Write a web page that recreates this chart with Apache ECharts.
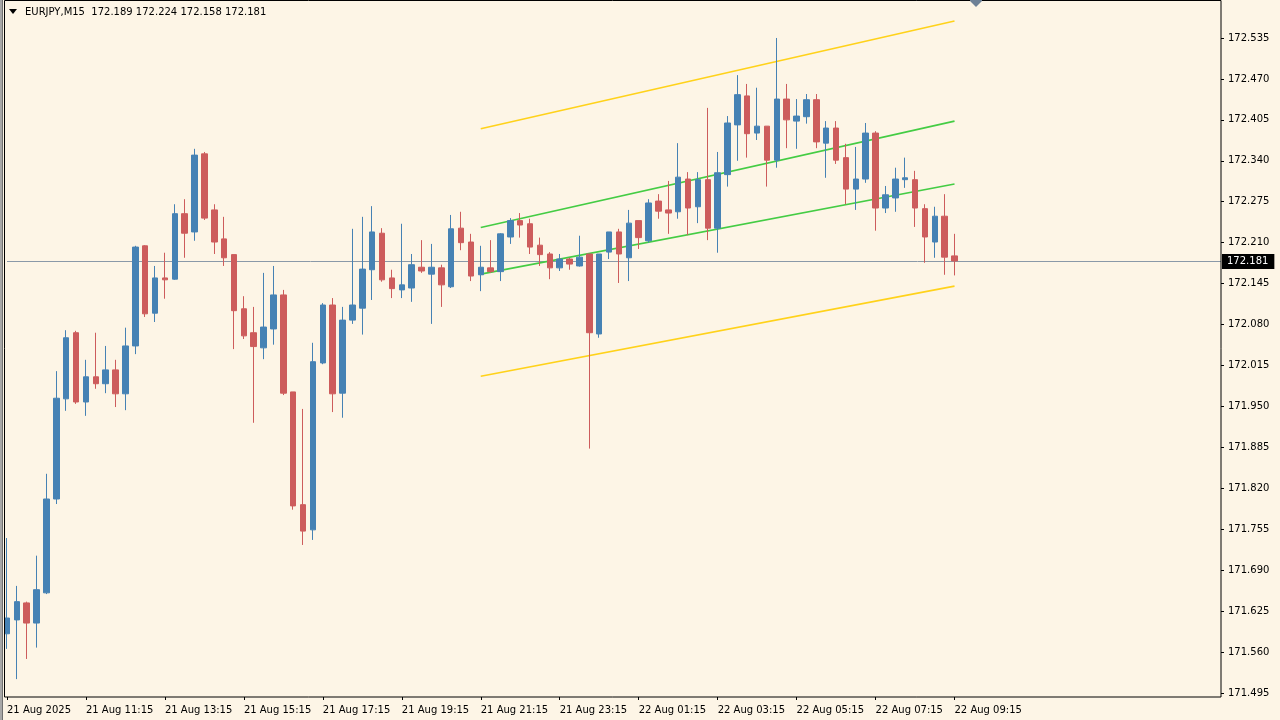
<!DOCTYPE html>
<html>
<head>
<meta charset="utf-8">
<script src="https://cdn.jsdelivr.net/npm/echarts@6/dist/echarts.min.js"></script>
<style>
html,body{margin:0;padding:0;background:#FDF5E6;}
#chart{width:1280px;height:720px;}
</style>
</head>
<body>
<div id="chart"></div>
<script>
// ---- data ----
const symbolTitle = 'EURJPY,M15';
const lastQuote = ['172.189', '172.224', '172.158', '172.181'];
const xTickLabels = ['21 Aug 2025','21 Aug 11:15','21 Aug 13:15','21 Aug 15:15','21 Aug 17:15','21 Aug 19:15','21 Aug 21:15','21 Aug 23:15','22 Aug 01:15','22 Aug 03:15','22 Aug 05:15','22 Aug 07:15','22 Aug 09:15'];
const barsPerTick = 8;
const totalSlots = 124; // bars incl. empty space on the right
const yTickValues = [171.495,171.560,171.625,171.690,171.755,171.820,171.885,171.950,172.015,172.080,172.145,172.210,172.275,172.340,172.405,172.470,172.535];
const currentPrice = 172.181;

const opens = [171.589,171.611,171.638,171.606,171.654,171.803,171.962,172.067,171.957,171.997,
171.986,172.008,171.970,172.046,172.205,172.098,172.154,172.152,172.256,172.227,
172.351,172.262,172.216,172.191,172.105,172.067,172.043,172.073,172.127,171.973,
171.794,171.754,172.019,172.111,171.971,172.087,172.106,172.167,172.225,172.154,
172.135,172.138,172.171,172.160,172.170,172.140,172.233,172.211,172.159,172.170,
172.164,172.219,172.245,172.240,172.206,172.192,172.170,172.184,172.173,172.192,
172.065,172.195,172.227,172.186,172.245,172.213,172.276,172.262,172.259,172.311,
172.267,172.310,172.233,172.318,172.397,172.443,172.384,172.395,172.341,172.438,
172.403,172.410,172.437,172.368,172.392,172.345,172.295,172.311,172.384,172.265,
172.281,172.310,172.310,172.264,172.211,172.252,172.189];
const highs = [171.741,171.665,171.640,171.713,171.843,172.006,172.071,172.070,172.024,172.067,
172.046,172.024,172.075,172.205,172.206,172.173,172.194,172.271,172.279,172.359,
172.354,172.271,172.251,172.191,172.125,172.108,172.162,172.173,172.135,171.973,
171.946,172.051,172.114,172.122,172.108,172.232,172.251,172.268,172.233,172.167,
172.240,172.192,172.214,172.208,172.175,172.254,172.259,172.224,172.205,172.214,
172.225,172.249,172.257,172.248,172.218,172.195,172.192,172.186,172.221,172.192,
172.192,172.227,172.232,172.262,172.245,172.279,172.287,172.308,172.368,172.322,
172.322,172.424,172.354,172.411,172.476,172.462,172.456,172.395,172.535,172.462,
172.438,172.446,172.446,172.403,172.403,172.367,172.362,172.400,172.387,172.300,
172.329,172.345,172.324,172.271,172.267,172.287,172.224];
const lows = [171.565,171.517,171.549,171.567,171.652,171.795,171.943,171.954,171.935,171.978,
171.971,171.949,171.944,172.033,172.092,172.084,172.121,172.151,172.186,172.213,
172.246,172.192,172.173,172.041,172.057,171.924,172.025,172.048,171.968,171.786,
171.730,171.738,172.017,171.941,171.932,172.081,172.064,172.119,172.148,172.122,
172.122,172.116,172.162,172.081,172.108,172.138,172.198,172.149,172.133,172.162,
172.149,172.208,172.218,172.192,172.173,172.152,172.165,172.167,172.172,171.883,
172.059,172.184,172.146,172.149,172.200,172.210,172.248,172.224,172.248,172.222,
172.241,172.214,172.194,172.299,172.340,172.345,172.373,172.299,172.329,172.360,
172.359,172.399,172.360,172.313,172.335,172.271,172.262,172.305,172.229,172.257,
172.259,172.297,172.235,172.178,172.186,172.159,172.158];
const closes = [171.614,171.640,171.606,171.659,171.803,171.963,172.059,171.957,171.997,171.986,
172.008,171.970,172.046,172.203,172.097,172.154,172.151,172.256,172.225,172.349,
172.249,172.211,172.186,172.102,172.062,172.045,172.076,172.127,171.971,171.792,
171.752,172.021,172.111,171.970,172.087,172.111,172.168,172.227,172.151,172.137,
172.143,172.175,172.165,172.171,172.143,172.232,172.210,172.157,172.171,172.164,
172.224,172.245,172.238,172.203,172.191,172.170,172.184,172.176,172.187,172.067,
172.192,172.227,172.192,172.241,172.218,172.273,172.260,172.257,172.314,172.265,
172.310,172.233,172.321,172.400,172.445,172.383,172.395,172.341,172.438,172.405,
172.411,172.437,172.370,172.392,172.341,172.295,172.311,172.384,172.265,172.286,
172.311,172.313,172.265,172.219,172.252,172.187,172.181];

// channel lines: start/end prices at bars channelStart..channelEnd
const channelStart = 48, channelEnd = 96;
const upperOuter = [172.391, 172.562];
const upperInner = [172.234, 172.403];
const lowerInner = [172.160, 172.303];
const lowerOuter = [171.998, 172.141];

// ---- build ----
const categories = [];
(function(){
  const t0 = Date.UTC(2025, 7, 21, 9, 15);
  const mon = ['Jan','Feb','Mar','Apr','May','Jun','Jul','Aug','Sep','Oct','Nov','Dec'];
  for (let i = 0; i < totalSlots; i++) {
    const d = new Date(t0 + i * 15 * 60000);
    const hh = String(d.getUTCHours()).padStart(2,'0');
    const mm = String(d.getUTCMinutes()).padStart(2,'0');
    categories.push(d.getUTCDate() + ' ' + mon[d.getUTCMonth()] + ' ' + hh + ':' + mm);
  }
})();
const candleData = opens.map((o, i) => [o, closes[i], lows[i], highs[i]]);
const FONT = 'DejaVu Sans';
const tickShown = (idx) => idx % barsPerTick === 0 && idx / barsPerTick < xTickLabels.length;

function chanLine(vals, color) {
  return {
    type: 'line', data: [[channelStart, vals[0]], [channelEnd, vals[1]]],
    symbol: 'none', silent: true, z: 1, animation: false,
    lineStyle: { color: color, width: 1.6 }
  };
}

const chart = echarts.init(document.getElementById('chart'), null, { renderer: 'canvas' });
chart.setOption({
  backgroundColor: '#FDF5E6',
  animation: false,
  grid: { left: 7, right: 59, top: 1, bottom: 23, containLabel: false },
  xAxis: {
    type: 'category', data: categories, boundaryGap: false,
    axisLine: { show: false },
    axisTick: { show: true, interval: tickShown, length: 3, lineStyle: { color: '#000' } },
    axisLabel: {
      interval: tickShown, align: 'left', margin: 8,
      fontFamily: FONT, fontSize: 10, color: '#000',
      formatter: (v, idx) => xTickLabels[idx / barsPerTick] || ''
    },
    splitLine: { show: false }
  },
  yAxis: {
    type: 'value', position: 'right', scale: true,
    min: 171.4886, max: 172.5937,
    axisLine: { show: false },
    axisTick: { show: true, customValues: yTickValues, length: 3, lineStyle: { color: '#000' } },
    axisLabel: {
      customValues: yTickValues, margin: 7,
      fontFamily: FONT, fontSize: 10, color: '#000',
      formatter: (v) => v.toFixed(3)
    },
    splitLine: { show: false }
  },
  series: [
    {
      type: 'line', data: [], z: 1, silent: true,
      markLine: {
        silent: true, symbol: 'none', z: 1, animation: false,
        lineStyle: { color: '#8A99A8', width: 1, type: 'solid' },
        label: {
          show: true, position: 'end', distance: 1,
          formatter: currentPrice.toFixed(3),
          backgroundColor: '#000', color: '#fff',
          fontFamily: FONT, fontSize: 10, lineHeight: 11,
          padding: [2, 6, 2, 5]
        },
        data: [{ yAxis: currentPrice }]
      }
    },
    chanLine(upperOuter, '#FFD21A'),
    chanLine(lowerOuter, '#FFD21A'),
    chanLine(upperInner, '#44CC44'),
    chanLine(lowerInner, '#44CC44'),
    {
      type: 'candlestick', data: candleData, z: 3, clip: false,
      barWidth: 6,
      itemStyle: {
        color: '#4682B4', color0: '#CD5C5C',
        borderColor: '#4682B4', borderColor0: '#CD5C5C', borderWidth: 1
      }
    }
  ],
  graphic: [
    { type: 'rect', z: 10, silent: true, shape: { x: 0, y: 0, width: 2, height: 720 }, style: { fill: '#A8A8A8' } },
    { type: 'rect', z: 10, silent: true, shape: { x: 2, y: 0, width: 1, height: 720 }, style: { fill: '#707070' } },
    { type: 'rect', z: 10, silent: true, shape: { x: 4.5, y: 0.5, width: 1216.5, height: 696.5 }, style: { fill: null, stroke: '#000', lineWidth: 1 } },
    { type: 'polygon', z: 10, silent: true, shape: { points: [[970, 0], [982, 0], [982, 1], [976, 7], [970, 1]] }, style: { fill: '#6E8196' } },
    { type: 'polygon', z: 10, silent: true, shape: { points: [[9, 9], [17, 9], [13, 14]] }, style: { fill: '#000' } },
    { type: 'text', z: 10, silent: true, left: 25, top: 7,
      style: { text: symbolTitle + '  ' + lastQuote.join(' '), fontFamily: FONT, fontSize: 10, fill: '#000' } }
  ]
});
</script>
</body>
</html>
